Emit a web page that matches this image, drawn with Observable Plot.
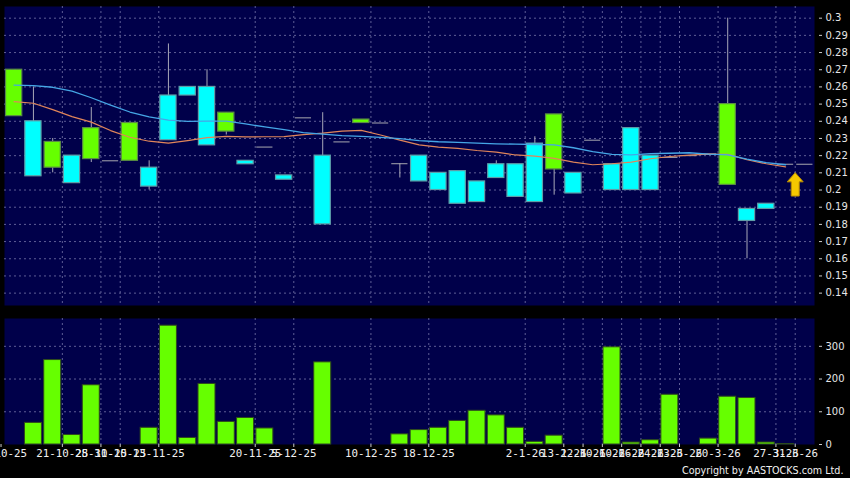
<!DOCTYPE html>
<html>
<head>
<meta charset="utf-8">
<script src="https://cdn.jsdelivr.net/npm/d3@7"></script>
<script src="https://cdn.jsdelivr.net/npm/@observablehq/plot@0.6"></script>
<style>
  html, body { margin: 0; padding: 0; background: #000; }
  #chart { position: relative; width: 850px; height: 478px; background: #000; overflow: hidden; }
  #chart svg { display: block; }
</style>
</head>
<body>
<div id="chart"></div>
<script>
// ---- data (one entry per trading slot) ----
const opens  = [0.243,0.240,0.213,0.220,0.218,0.217,0.217,0.213,0.255,0.260,0.260,0.234,0.217,0.225,0.2085,0.242,0.220,0.228,0.239,0.239,0.2153,0.220,0.210,0.211,0.205,0.215,0.215,0.227,0.212,0.210,0.229,0.215,0.236,0.220,0.219,0.220,0.221,0.203,0.189,0.192,0.215,0.215];
const highs  = [0.270,0.260,0.230,0.220,0.248,0.217,0.239,0.217,0.285,0.260,0.270,0.245,0.217,0.225,0.2085,0.242,0.245,0.228,0.241,0.239,0.2153,0.220,0.210,0.211,0.205,0.217,0.215,0.231,0.244,0.210,0.229,0.215,0.236,0.220,0.219,0.220,0.221,0.300,0.189,0.192,0.215,0.215];
const lows   = [0.243,0.208,0.210,0.204,0.216,0.217,0.217,0.200,0.229,0.255,0.226,0.232,0.215,0.225,0.206,0.242,0.180,0.228,0.239,0.239,0.207,0.205,0.200,0.192,0.193,0.207,0.196,0.193,0.197,0.198,0.229,0.200,0.200,0.200,0.219,0.220,0.221,0.203,0.160,0.189,0.215,0.215];
const closes = [0.270,0.208,0.228,0.204,0.236,0.217,0.239,0.202,0.229,0.255,0.226,0.245,0.215,0.225,0.206,0.242,0.180,0.228,0.241,0.239,0.2153,0.205,0.200,0.192,0.193,0.207,0.196,0.193,0.244,0.198,0.229,0.200,0.200,0.200,0.219,0.220,0.221,0.250,0.182,0.189,0.215,0.215];
const volumes = [0,66,258,29,181,0,0,51,363,20,185,69,81,49,0,0,251,0,0,0,31,44,51,72,103,89,51,8,27,0,0,297,6,13,152,0,18,146,142,6,1,0];
const maBlue = [0.2610,0.2608,0.2598,0.2575,0.2537,0.2494,0.2454,0.2426,0.2407,0.2399,0.2401,0.2401,0.2385,0.2367,0.2351,0.2334,0.2325,0.2317,0.2312,0.2306,0.2299,0.2288,0.2281,0.2277,0.2273,0.2269,0.2267,0.2265,0.2263,0.2246,0.2223,0.2207,0.2205,0.2212,0.2214,0.2217,0.2209,0.2205,0.2180,0.2159,0.2147];
const maOrange = [0.2514,0.2505,0.2468,0.2427,0.2395,0.2346,0.2307,0.2284,0.2273,0.2288,0.2305,0.2312,0.2309,0.2310,0.2311,0.2322,0.2331,0.2343,0.2347,0.2320,0.2290,0.2263,0.2250,0.2242,0.2230,0.2221,0.2204,0.2197,0.2184,0.2162,0.2147,0.2153,0.2162,0.2182,0.2195,0.2203,0.2209,0.2207,0.2176,0.2153,0.2135];
// x-axis ticks: position (slot units) and label
const tickPos    = [-0.68, 2.5, 4.5, 5.5, 7.5, 12.5, 14.5, 18.5, 21.5, 26.5, 28.5, 29.5, 30.5, 31.5, 32.5, 33.5, 34.5, 36.5, 39.5, 40.5];
const tickLabels = ["14-10-25","21-10-25","28-10-25","31-10-25","13-11-25","20-11-25","5-12-25","10-12-25","18-12-25","2-1-26","13-1-26","22-1-26","30-1-26","10-2-26","16-2-26","24-2-26","13-3-26","20-3-26","27-3-26","31-3-26"];
const priceTicks = [0.14,0.15,0.16,0.17,0.18,0.19,0.20,0.21,0.22,0.23,0.24,0.25,0.26,0.27,0.28,0.29,0.30];
const volumeTicks = [0,100,200,300];
const arrowAt = {i: 40.5, p: 0.2033};

// ---- derived tables ----
const candles = opens.map((o, i) => ({i, o, h: highs[i], l: lows[i], c: closes[i], v: volumes[i]}));
const bodies = candles.filter(d => d.o !== d.c);
const dojis = candles.filter(d => d.o === d.c);
const wicks = candles.filter(d => d.h > Math.max(d.o, d.c) + 1e-9 || d.l < Math.min(d.o, d.c) - 1e-9);
const blue = maBlue.map((v, i) => ({i, v}));
const orange = maOrange.map((v, i) => ({i, v}));
const labelOf = new Map(tickPos.map((p, k) => [p, tickLabels[k]]));

const NAVY = "#00004a";
const GRID = "#5e5e96";
const GREEN = "#66ff00";
const CYAN = "#00ffff";
const xDomain = [-0.5, 41.5];
const HW = 0.42;

const arrowSymbol = {
  draw(ctx) {
    ctx.moveTo(0, -11.7);
    ctx.lineTo(8, -2.5);
    ctx.lineTo(4, -2.5);
    ctx.lineTo(4, 11.7);
    ctx.lineTo(-4, 11.7);
    ctx.lineTo(-4, -2.5);
    ctx.lineTo(-8, -2.5);
    ctx.closePath();
  }
};

const price = Plot.plot({
  width: 850, height: 310,
  marginTop: 6, marginBottom: 5, marginLeft: 4, marginRight: 36,
  style: {background: "#000", color: "#e6e6e6", fontFamily: "DejaVu Sans", fontSize: "10px"},
  x: {domain: xDomain, axis: null},
  y: {domain: [0.1328, 0.3068], axis: null},
  marks: [
    Plot.frame({fill: NAVY, stroke: null}),
    Plot.ruleY(priceTicks, {stroke: GRID, strokeDasharray: "2,3", strokeWidth: 1}),
    Plot.ruleX(tickPos.filter(p => p > -0.5), {stroke: GRID, strokeDasharray: "2,3", strokeWidth: 1}),
    Plot.ruleX(wicks, {x: "i", y1: "l", y2: "h", stroke: "#a8a8b8", strokeWidth: 1}),
    Plot.rect(bodies, {x1: d => d.i - HW, x2: d => d.i + HW, y1: "o", y2: "c",
      fill: d => d.c > d.o ? GREEN : CYAN, stroke: d => d.c > d.o ? "#5b8d45" : "#5f9ea8", strokeWidth: 1.2}),
    Plot.ruleY(dojis, {y: "c", x1: d => d.i - HW, x2: d => d.i + HW, stroke: "#a8a8b0", strokeWidth: 1}),
    Plot.line(orange, {x: "i", y: "v", stroke: "#e0855a", strokeWidth: 1.2}),
    Plot.line(blue, {x: "i", y: "v", stroke: "#45a6e6", strokeWidth: 1.3}),
    Plot.dot([arrowAt], {x: "i", y: "p", symbol: arrowSymbol, fill: "#f5c800", stroke: "#b88a00", strokeWidth: 1, r: 8}),
    Plot.axisY(priceTicks, {anchor: "right", label: null, tickSize: 3, tickPadding: 4, dx: 4, stroke: "#cccccc", fill: "#e6e6e6", fontSize: 10, tickFormat: d => String(+d.toFixed(2))})
  ]
});

const volume = Plot.plot({
  width: 850, height: 168,
  marginTop: 8, marginBottom: 34, marginLeft: 4, marginRight: 36,
  style: {background: "#000", color: "#e6e6e6", fontFamily: "DejaVu Sans", fontSize: "10px", overflow: "visible"},
  x: {domain: xDomain, axis: null},
  y: {domain: [0, 385], axis: null},
  marks: [
    Plot.frame({fill: NAVY, stroke: null}),
    Plot.ruleY(volumeTicks.filter(v => v > 0), {stroke: GRID, strokeDasharray: "2,3", strokeWidth: 1}),
    Plot.ruleX(tickPos.filter(p => p > -0.5), {stroke: GRID, strokeDasharray: "2,3", strokeWidth: 1}),
    Plot.rect(candles, {x1: d => d.i - 0.44, x2: d => d.i + 0.44, y1: 0, y2: "v", fill: GREEN, stroke: "#2f4a1c", strokeWidth: 1}),
    Plot.axisY(volumeTicks, {anchor: "right", label: null, tickSize: 3, tickPadding: 4, dx: 4, stroke: "#cccccc", fill: "#e6e6e6", fontSize: 10}),
    Plot.axisX(tickPos, {anchor: "bottom", label: null, tickSize: 3, tickPadding: 2, stroke: "#cccccc", fill: "#f0f0f0",
      fontSize: 10.8, fontFamily: "DejaVu Sans Mono", tickFormat: d => labelOf.get(d)}),
    Plot.text(["Copyright by AASTOCKS.com Ltd."], {frameAnchor: "bottom-right", dx: 29, dy: 29, lineAnchor: "bottom",
      fill: "#f0f0f0", fontSize: 9.6, fontFamily: "DejaVu Sans"})
  ]
});

const chart = document.getElementById("chart");
chart.appendChild(price);
chart.appendChild(volume);
</script>
</body>
</html>
